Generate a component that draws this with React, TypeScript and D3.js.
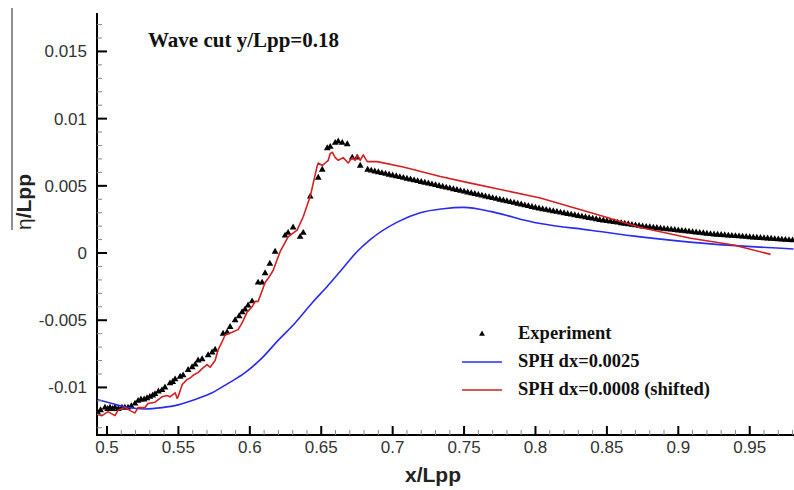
import React from "react";
import * as d3 from "d3";

const expX = [
  0.4937, 0.4955, 0.4986, 0.5005, 0.5021, 0.504, 0.5056, 0.508, 0.5105, 0.5125, 0.5147, 0.517, 0.5196, 0.5218, 0.5238, 0.526, 0.528, 0.530,
  0.532, 0.5336, 0.536, 0.5385, 0.5406, 0.5441, 0.546, 0.5477, 0.5512, 0.5533, 0.5568, 0.5596, 0.5618, 0.5638, 0.5666, 0.5708, 0.5736, 0.5757,
  0.5813, 0.5841, 0.5862, 0.5897, 0.5925, 0.5946, 0.5967, 0.5988, 0.6016, 0.6058, 0.6086, 0.6107, 0.614, 0.6177, 0.6247, 0.6268,
  0.6303, 0.6352, 0.6374, 0.6423, 0.6479, 0.6507, 0.6542, 0.6563, 0.6598, 0.6619, 0.6647, 0.6682, 0.6717, 0.6752, 0.6773,
  0.6825, 0.685, 0.6875, 0.690, 0.6925, 0.695, 0.6975, 0.700, 0.7025, 0.705, 0.7075, 0.710, 0.7125, 0.715, 0.7175,
  0.720, 0.7225, 0.725, 0.7275, 0.730, 0.7325, 0.735, 0.7375, 0.740, 0.7425, 0.745, 0.7475, 0.750, 0.7525, 0.755,
  0.7575, 0.760, 0.7625, 0.765, 0.7675, 0.770, 0.7725, 0.775, 0.7775, 0.780, 0.7825, 0.785, 0.7875, 0.790, 0.7925,
  0.795, 0.7975, 0.800, 0.8025, 0.805, 0.8075, 0.810, 0.8125, 0.815, 0.8175, 0.820, 0.8225, 0.825, 0.8275, 0.830,
  0.8325, 0.835, 0.8375, 0.840, 0.8425, 0.845, 0.8475, 0.850, 0.8525, 0.855, 0.8575, 0.860, 0.8625, 0.865, 0.8675,
  0.870, 0.8725, 0.875, 0.8775, 0.880, 0.8825, 0.885, 0.8875, 0.890, 0.8925, 0.895, 0.8975, 0.900, 0.9025, 0.905,
  0.9075, 0.910, 0.9125, 0.915, 0.9175, 0.920, 0.9225, 0.925, 0.9275, 0.930, 0.9325, 0.935, 0.9375, 0.940, 0.9425,
  0.945, 0.9475, 0.950, 0.9525, 0.955, 0.9575, 0.960, 0.9625, 0.965, 0.9675, 0.970, 0.9725, 0.975, 0.9775, 0.980,
];
const expY = [
  -0.0119, -0.0117, -0.0115, -0.0116, -0.0115, -0.0116, -0.0115, -0.0116, -0.0115, -0.0115, -0.0115, -0.0114, -0.0112, -0.0110, -0.0109, -0.0109, -0.0108, -0.0107,
  -0.0106, -0.0105, -0.0103, -0.0102, -0.0100, -0.0097, -0.0096, -0.0094, -0.0092, -0.0091, -0.0087, -0.0085, -0.0083, -0.0080, -0.0079, -0.0076, -0.0074, -0.0072,
  -0.0060, -0.0059, -0.0055, -0.0050, -0.0047, -0.0044, -0.0042, -0.0039, -0.0036, -0.0022, -0.0022, -0.0015, -0.0008, 0.0001, 0.0013, 0.0015,
  0.0019, 0.0012, 0.0015, 0.0042, 0.0056, 0.0062, 0.0078, 0.0079, 0.0082, 0.0083, 0.0082, 0.0081, 0.0071, 0.0071, 0.0065,
  0.0062, 0.00613, 0.00607, 0.00601, 0.00595, 0.00589, 0.00583, 0.00577, 0.00571, 0.00565, 0.00559, 0.00553, 0.00547, 0.00541, 0.00535,
  0.00529, 0.00523, 0.00517, 0.00511, 0.00505, 0.00499, 0.00493, 0.00487, 0.00481, 0.00475, 0.00469, 0.00463, 0.00457, 0.00451, 0.00445,
  0.00439, 0.00433, 0.00427, 0.00421, 0.00415, 0.00409, 0.00403, 0.00397, 0.00391, 0.00385, 0.00379, 0.00373, 0.00367, 0.00361, 0.00355,
  0.00349, 0.00343, 0.00337, 0.00331, 0.00326, 0.00321, 0.00316, 0.00311, 0.00306, 0.00301, 0.00296, 0.00291, 0.00286, 0.00281, 0.00276,
  0.00271, 0.00266, 0.00261, 0.00256, 0.00251, 0.00246, 0.00242, 0.00238, 0.00234, 0.0023, 0.00226, 0.00222, 0.00218, 0.00214, 0.0021,
  0.00206, 0.00202, 0.00198, 0.00195, 0.00192, 0.00189, 0.00186, 0.00183, 0.0018, 0.00177, 0.00174, 0.00171, 0.00168, 0.00165, 0.00162,
  0.00159, 0.00156, 0.00153, 0.0015, 0.00147, 0.00144, 0.00141, 0.00138, 0.00136, 0.00134, 0.00132, 0.0013, 0.00128, 0.00126, 0.00124,
  0.00122, 0.0012, 0.00118, 0.00116, 0.00114, 0.00112, 0.0011, 0.00108, 0.00106, 0.00104, 0.00102, 0.001, 0.00098, 0.00096, 0.00094,
];

const coarseX = [
  0.493, 0.5035, 0.5147, 0.5266, 0.5385, 0.5498, 0.5617, 0.5736, 0.5848, 0.5967, 0.6086, 0.6198, 0.6317, 0.6437,
  0.6549, 0.6654, 0.675, 0.6843, 0.7032, 0.7193, 0.7355, 0.7495, 0.7684, 0.78, 0.79, 0.8034, 0.8385, 0.8735, 0.9205, 0.9807,
];
const coarseY = [
  -0.0109, -0.0112, -0.0115, -0.0116, -0.0115, -0.0113, -0.0109, -0.0104, -0.0097, -0.0089, -0.0078, -0.0065, -0.0052, -0.0037,
  -0.0024, -0.0011, 0.0001, 0.0010, 0.0023, 0.0030, 0.0033, 0.0034, 0.0031, 0.0028, 0.0025, 0.0022, 0.0017, 0.0012, 0.0007, 0.0003,
];

const fineX = [
  0.493, 0.4965, 0.5007, 0.5056, 0.5077, 0.5126, 0.5175, 0.5196, 0.5217, 0.5266, 0.5287, 0.5336, 0.5385, 0.542,
  0.5441, 0.5477, 0.5491, 0.5498, 0.5526, 0.5561, 0.5582, 0.5603, 0.5638, 0.5666, 0.5701, 0.5722, 0.5757, 0.5778,
  0.5806, 0.5827, 0.5876, 0.5918, 0.5946, 0.5981, 0.6016, 0.6037, 0.6058, 0.6086, 0.6107, 0.6128, 0.6163, 0.6212,
  0.6268, 0.6331, 0.6374, 0.6409, 0.6423, 0.6444, 0.6472, 0.6479, 0.6507, 0.6528, 0.6549, 0.6563, 0.6577, 0.6598,
  0.6619, 0.6654, 0.6689, 0.6717, 0.6738, 0.6752, 0.6773, 0.6794, 0.6822, 0.6892, 0.7074, 0.7334, 0.7544, 0.8034,
  0.8455, 0.8735, 0.9086, 0.9387, 0.9646,
];
const fineY = [
  -0.0120, -0.0121, -0.0118, -0.0121, -0.0117, -0.0115, -0.0118, -0.0119, -0.0115, -0.0115, -0.0112, -0.0111, -0.0107, -0.0106,
  -0.0107, -0.0104, -0.0108, -0.0107, -0.0098, -0.0094, -0.0093, -0.0091, -0.0089, -0.0086, -0.0083, -0.0085, -0.0080, -0.0072,
  -0.0066, -0.0061, -0.0059, -0.0057, -0.0052, -0.0044, -0.0040, -0.0036, -0.0036, -0.0028, -0.0022, -0.0019, -0.0013, 0.0001,
  0.0012, 0.0017, 0.0027, 0.0038, 0.0042, 0.0052, 0.0065, 0.0067, 0.0065, 0.0067, 0.0069, 0.0074, 0.0075, 0.0071,
  0.0069, 0.0071, 0.0067, 0.0071, 0.0069, 0.0073, 0.0069, 0.0073, 0.0068, 0.0068, 0.0064, 0.0057, 0.0052, 0.0041,
  0.0028, 0.0019, 0.0011, 0.0006, -0.0001,
];

const xTicks = [0.5, 0.55, 0.6, 0.65, 0.7, 0.75, 0.8, 0.85, 0.9, 0.95];
const xTickLabels = ["0.5", "0.55", "0.6", "0.65", "0.7", "0.75", "0.8", "0.85", "0.9", "0.95"];
const yTicks = [-0.01, -0.005, 0, 0.005, 0.01, 0.015];
const yTickLabels = ["-0.01", "-0.005", "0", "0.005", "0.01", "0.015"];

const legendLabels = ["Experiment", "SPH dx=0.0025", "SPH dx=0.0008 (shifted)"];
const titleText = "Wave cut y/Lpp=0.18";

const BLUE = "#2b2bef";
const RED = "#d42020";

export default function App() {
  const W = 794;
  const H = 490;
  const left = 97;
  const right = 794;
  const top = 13;
  const bottom = 435;

  const x = d3.scaleLinear().domain([0.493, 0.981]).range([left, right]);
  const y = d3.scaleLinear().domain([-0.01354, 0.01786]).range([bottom, top]);

  const xMinor = d3.range(50, 99).map((v) => v / 100).filter((v) => x(v) >= left && x(v) <= right);
  const yMinor = d3.range(-13, 18).map((v) => v / 1000).filter((v) => y(v) <= bottom && y(v) >= top);

  const line = d3
    .line<[number, number]>()
    .x((d) => x(d[0]))
    .y((d) => y(d[1]));

  const coarse: [number, number][] = coarseX.map((v, i) => [v, coarseY[i]]);
  const fine: [number, number][] = fineX.map((v, i) => [v, fineY[i]]);
  const coarsePath = d3.line<[number, number]>().x((d) => x(d[0])).y((d) => y(d[1])).curve(d3.curveMonotoneX)(coarse) || "";
  const finePath = line(fine) || "";

  const tri = d3.symbol().type(d3.symbolTriangle).size(20)() || "";
  const triLegend = d3.symbol().type(d3.symbolTriangle).size(15)() || "";

  const tickFont = "'Liberation Sans', Arial, sans-serif";
  const serif = "'Liberation Serif', 'Times New Roman', serif";

  return (
    <svg width={W} height={H} style={{ position: "absolute", left: 0, top: 0, background: "#fff" }}>
      <defs>
        <clipPath id="plotClip">
          <rect x={left} y={top} width={right - left} height={bottom - top} />
        </clipPath>
      </defs>
      <rect x={0} y={0} width={W} height={H} fill="#fff" />

      <g clipPath="url(#plotClip)">
        {expX.map((v, i) => (
          <path key={i} d={tri} transform={`translate(${x(v)},${y(expY[i])})`} fill="#000" />
        ))}
        <path d={coarsePath} fill="none" stroke={BLUE} strokeWidth={1.6} />
        <path d={finePath} fill="none" stroke={RED} strokeWidth={1.6} strokeLinejoin="round" />
      </g>

      {/* axes */}
      <line x1={left} x2={left} y1={top} y2={bottom + 1} stroke="#000" strokeWidth={2} />
      <line x1={left - 1} x2={right} y1={bottom} y2={bottom} stroke="#000" strokeWidth={2} />

      {xMinor.map((v, i) => (
        <line key={"xm" + i} x1={x(v)} x2={x(v)} y1={bottom} y2={bottom - 5} stroke="#888" strokeWidth={1} />
      ))}
      {xTicks.map((v, i) => (
        <g key={"xt" + i}>
          <line x1={x(v)} x2={x(v)} y1={bottom} y2={bottom - 9} stroke="#000" strokeWidth={2} />
          <text x={x(v)} y={453} textAnchor="middle" fontFamily={tickFont} fontSize={17} fill="#333">
            {xTickLabels[i]}
          </text>
        </g>
      ))}

      {yMinor.map((v, i) => (
        <line key={"ym" + i} x1={left} x2={left + 5} y1={y(v)} y2={y(v)} stroke="#888" strokeWidth={1} />
      ))}
      {yTicks.map((v, i) => (
        <g key={"yt" + i}>
          <line x1={left} x2={left + 10} y1={y(v)} y2={y(v)} stroke="#000" strokeWidth={2} />
          <text x={87} y={y(v) + 6} textAnchor="end" fontFamily={tickFont} fontSize={17} fill="#333">
            {yTickLabels[i]}
          </text>
        </g>
      ))}

      {/* axis titles */}
      <text x={433} y={482} textAnchor="middle" fontFamily={tickFont} fontSize={21} fontWeight="bold" fill="#222">
        x/Lpp
      </text>
      <line x1={12} x2={12} y1={8} y2={230} stroke="#222" strokeWidth={1} />
      <text transform="translate(31,230) rotate(-90)" fontFamily={tickFont} fontSize={21} fill="#222">
        <tspan fontWeight="normal">η</tspan>
        <tspan fontWeight="bold">/Lpp</tspan>
      </text>

      {/* title */}
      <text x={148} y={47} fontFamily={serif} fontSize={21} fontWeight="bold" fill="#111">
        {titleText}
      </text>

      {/* legend */}
      <path d={triLegend} transform="translate(482,334)" fill="#000" />
      <text x={518} y={339} fontFamily={serif} fontSize={18.5} fontWeight="bold" fill="#111">
        {legendLabels[0]}
      </text>
      <line x1={462} x2={502} y1={362} y2={362} stroke={BLUE} strokeWidth={1.6} />
      <text x={518} y={367} fontFamily={serif} fontSize={18.5} fontWeight="bold" fill="#111">
        {legendLabels[1]}
      </text>
      <line x1={462} x2={502} y1={390} y2={390} stroke={RED} strokeWidth={1.6} />
      <text x={518} y={395} fontFamily={serif} fontSize={18.5} fontWeight="bold" fill="#111">
        {legendLabels[2]}
      </text>
    </svg>
  );
}
